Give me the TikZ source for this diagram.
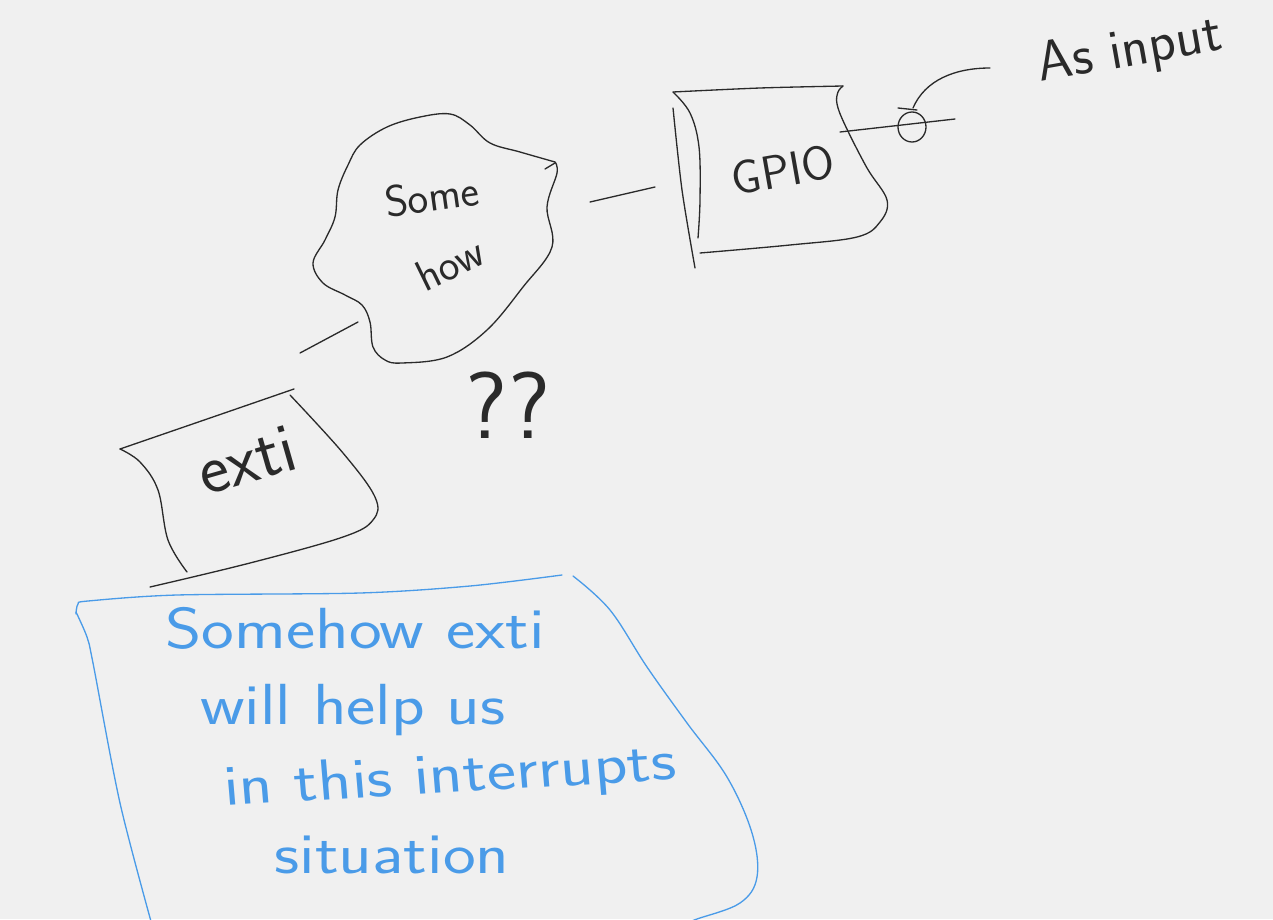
\documentclass[tikz,border=0pt]{standalone}
\usepackage{fontspec}
\definecolor{bg}{HTML}{F0F0F0}
\definecolor{ink}{HTML}{2A2A2A}
\definecolor{blueink}{HTML}{4A9BE8}
\tikzset{
  pen/.style={draw=ink, line width=0.75pt, line cap=round, line join=round},
  bluepen/.style={draw=blueink, line width=0.75pt, line cap=round, line join=round},
  hand/.style={text=ink, font=\sffamily\fontsize{#1}{#1}\selectfont, inner sep=0pt},
  bluehand/.style={text=blueink, font=\sffamily\fontsize{33}{33}\selectfont, inner sep=0pt, xscale=1.2},
}
\begin{document}
\begin{tikzpicture}[x=0.02cm, y=-0.02cm]
\fill[bg] (0,0) rectangle (1273,919);
\useasboundingbox (0,0) rectangle (1273,919);
\clip (0,0) rectangle (1273,919);

% ---------- cloud "Some how" ----------
\draw[pen] plot[smooth, tension=0.6] coordinates {
 (555,162) (520,152) (490,143) (470,125) (450,114) (420,117) (387,127)
 (360,145) (348,165) (338,190) (335,217) (325,240) (313,263) (323,283)
 (345,295) (362,305) (370,322) (373,347) (385,360) (402,363) (447,357)
 (487,330) (523,287) (552,247) (547,207) (557,173) (555,162)};
\draw[pen] (545,169) -- (555,163);
\node[hand=25, rotate=8] (some) at (432,196) {Some};
\node[hand=25, rotate=26] (how) at (450,264) {how};
\coordinate (cloudL) at (358,322);
\coordinate (cloudR) at (590,202);

% ---------- GPIO box ----------
\draw[pen] plot[smooth, tension=0.5] coordinates {
 (843,86) (760,88) (673,92)};
\draw[pen] plot[smooth, tension=0.6] coordinates {
 (673,92) (690,113) (699,147) (700,200) (698,238)};
\draw[pen] plot[smooth, tension=0.5] coordinates {
 (673,108) (682,190) (695,268)};
\draw[pen] plot[smooth, tension=0.6] coordinates {
 (700,253) (790,245) (857,237) (880,222) (887,200) (867,168)
 (845,125) (837,104) (838,92) (843,86)};
\node[hand=27, rotate=10] (gpio) at (783,170) {GPIO};
\coordinate (gpioL) at (655,187);
\coordinate (gpioR) at (840,132);
\draw[pen] (cloudR) -- (gpioL);

% ---------- pin, circle, "As input" ----------
\coordinate (pinEnd) at (955,119);
\draw[pen] (gpioR) -- (pinEnd);
\draw[pen] (912,127) ellipse [x radius=14, y radius=15];
\draw[pen] (898,108) -- (917,110);
\coordinate (pinTop) at (913,108);
\coordinate (labelEnd) at (990,68);
\draw[pen] (pinTop) .. controls (925,80) and (955,68) .. (labelEnd);
\node[hand=32, rotate=10] (asinput) at (1130,52) {As input};

% ---------- extI box ----------
\draw[pen] plot[smooth, tension=0.5] coordinates {
 (294,389) (210,418) (120,449)};
\draw[pen] plot[smooth, tension=0.6] coordinates {
 (120,449) (140,462) (158,490) (168,540) (187,572)};
\draw[pen] plot[smooth, tension=0.6] coordinates {
 (290,395) (343,453) (375,497) (373,520) (343,537) (250,563) (150,587)};
\node[hand=40, rotate=16] (exti) at (247,460) {exti};
\coordinate (extiTop) at (300,353);
\draw[pen] (extiTop) -- (cloudL);

% ---------- question marks ----------
\node[hand=54] (qq) at (508,405) {??};

% ---------- blue note ----------
\draw[bluepen] plot[smooth, tension=0.5] coordinates {
 (76,614) (78,604) (88,601) (177,595) (360,593) (470,586) (562,575)};
\draw[bluepen] plot[smooth, tension=0.5] coordinates {
 (76,612) (87,637) (93,663) (120,803) (152,925)};
\draw[bluepen] plot[smooth, tension=0.6] coordinates {
 (573,576) (610,610) (647,667) (687,723) (727,777) (752,833) (757,877)
 (740,903) (697,919) (680,925)};
\node[bluehand] (l1) at (355,628) {Somehow exti};
\node[bluehand] (l2) at (353,710) {will help us};
\node[bluehand, rotate=4] (l3) at (450,778) {in this interrupts};
\node[bluehand] (l4) at (392,855) {situation};
\end{tikzpicture}
\end{document}
